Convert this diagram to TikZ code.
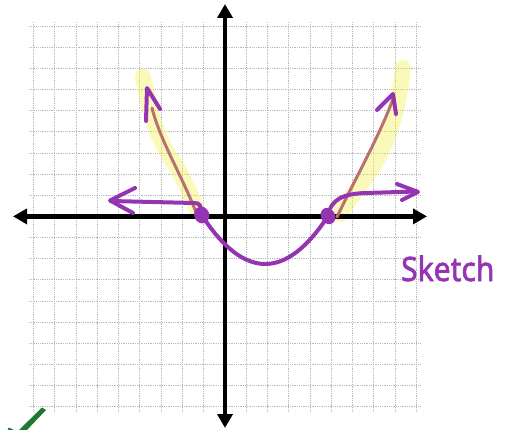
\documentclass[tikz,border=0pt]{standalone}
\usepackage{fontspec}
\newfontfamily\sketchfont[FakeBold=2]{Noto Sans}
\usetikzlibrary{arrows.meta}
\definecolor{penpurple}{RGB}{148,52,178}
\definecolor{brownline}{RGB}{184,112,112}
\definecolor{hlyellow}{RGB}{245,240,90}
\definecolor{checkgreen}{RGB}{30,120,50}
\tikzset{
  gridline/.style={draw=gray!55, line width=0.7pt, dash pattern=on 1pt off 0.8pt},
  axisline/.style={line width=4.5pt, black, {Triangle[length=14pt,width=15pt]}-{Triangle[length=14pt,width=15pt]}},
  hl/.style={line width=16pt, line cap=round, draw=hlyellow, opacity=0.42},
  brownpen/.style={line width=3pt, draw=brownline, line cap=round},
  pen/.style={line width=4pt, draw=penpurple, line cap=round, line join=round},
}
\begin{document}
\begin{tikzpicture}[x=1pt,y=-1pt]
\useasboundingbox (0,0) rectangle (513,430);
% grid
\foreach \i in {0,...,18} {
  \draw[gridline] ({33.3+21.28*\i},22) -- ({33.3+21.28*\i},411);
  \draw[gridline] (29,{26+21.15*\i}) -- (420,{26+21.15*\i});
}
% highlights
\draw[hl] (143,77) .. controls (150,115) and (158,140) .. (172,160) .. controls (185,180) and (193,200) .. (198,212);
\draw[hl] (403,68) .. controls (400,100) and (392,130) .. (378,158) .. controls (362,185) and (348,200) .. (340,214);
% axes
\coordinate (xl) at (13,216.4);
\coordinate (xr) at (427,216.4);
\coordinate (yt) at (225,4);
\coordinate (yb) at (225,428);
\draw[axisline] (xl) -- (xr);
\draw[axisline] (yb) -- (yt);
% zeros
\coordinate (z1) at (201.7,215);
\coordinate (z2) at (328,216);
% brown end lines
\draw[brownpen] (196,212) .. controls (180,172) and (160,140) .. (152,108);
\draw[brownpen] (337,217) .. controls (352,185) and (380,135) .. (393,99);
% purple arrowheads on brown lines
\draw[pen] (146,121) -- (147,88) -- (160,109);
\draw[pen] (377,110) -- (393,94) -- (396,114);
% parabola
\draw[pen] (z1) .. controls (243.9,280) and (286,280.3) .. (z2);
% end behaviour arrows
\draw[pen] (z1) .. controls (201,205) and (200,203) .. (194,203) -- (111,201);
\draw[pen] (135,188) -- (110,200.5) -- (133,213);
\draw[pen] (z2) .. controls (331,198) and (345,194) .. (365,193) -- (417,191.5);
\draw[pen] (397,184) -- (418,192) -- (402,200);
% dots
\fill[penpurple, rotate around={20:(z1)}] (z1) ellipse (7.5 and 8.5);
\fill[penpurple, rotate around={30:(z2)}] (z2) ellipse (7 and 8.5);
% label
\node[anchor=base west, text=penpurple, inner sep=0, yscale=1.12] (lbl) at (401,281) {\sketchfont\fontsize{30}{34}\selectfont Sketch};
% green check fragment
\fill[checkgreen] (42,407.5) -- (46,410) -- (25,432) -- (17,432) -- cycle;
\draw[line width=3.5pt, checkgreen] (8,429) -- (14,432);
\end{tikzpicture}
\end{document}
